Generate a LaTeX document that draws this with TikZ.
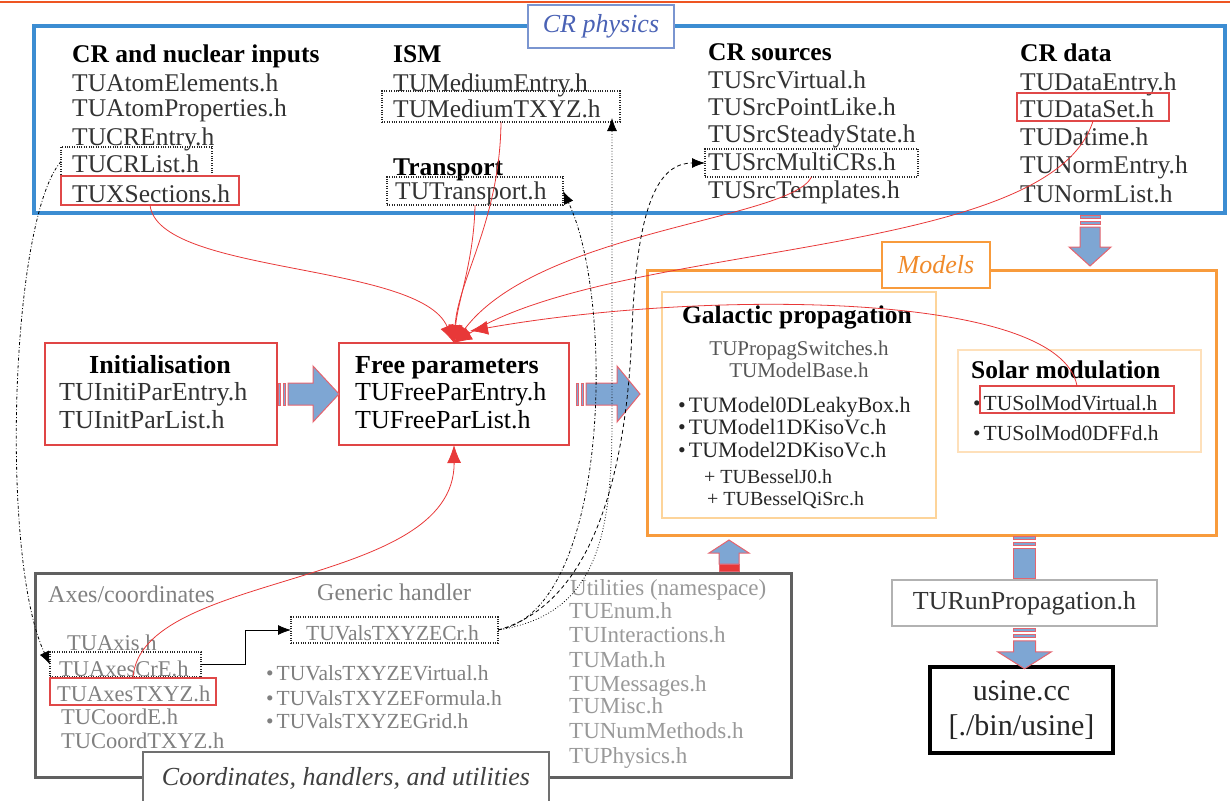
\documentclass[tikz,border=0pt]{standalone}
\usepackage{fontspec}
\setmainfont{Liberation Serif}
\usetikzlibrary{arrows.meta,fit,calc}
\definecolor{crblue}{HTML}{3C8DD2}
\definecolor{crlab}{HTML}{4A62B5}
\definecolor{crlabbox}{HTML}{7A95D0}
\definecolor{morange}{HTML}{F89B3C}
\definecolor{mlab}{HTML}{F08A2A}
\definecolor{galbox}{HTML}{FDD49A}
\definecolor{solbox}{HTML}{FEE0BA}
\definecolor{boxred}{HTML}{E04545}
\definecolor{itemred}{HTML}{E04848}
\definecolor{linered}{HTML}{E83838}
\definecolor{panelgray}{HTML}{606060}
\definecolor{arrblue}{HTML}{7EA6D3}
\definecolor{arrred}{HTML}{E5646E}
\definecolor{topline}{HTML}{EE5522}
\definecolor{itemtxt}{HTML}{333333}
\definecolor{modtxt}{HTML}{555555}
\definecolor{lowtxt}{HTML}{808080}
\definecolor{utiltxt}{HTML}{999999}
\newcommand\fsz[1]{\fontsize{#1}{#1}\selectfont}
\begin{document}
\begin{tikzpicture}[x=1pt,y=-1pt,
  txt/.style={anchor=base west, inner sep=0pt, text=itemtxt, font=\fsz{25.5}},
  hdr/.style={anchor=base west, inner sep=0pt, text=black, font=\fsz{25.5}\bfseries},
  modt/.style={anchor=base west, inner sep=0pt, text=black!85, font=\fsz{22}},
  lowt/.style={anchor=base west, inner sep=0pt, text=lowtxt, font=\fsz{22.5}},
  utilt/.style={anchor=base west, inner sep=0pt, text=utiltxt, font=\fsz{23}},
  frame/.style={inner sep=0pt, outer sep=0pt, fit={#1}},
  dotbox/.style={draw=black!85, line width=1.2pt, dash pattern=on 1pt off 1.4pt},
  redbox/.style={draw=itemred, line width=1.3pt},
  fatarr/.style={fill=arrblue, draw=arrred, line width=1pt},
  redc/.style={draw=linered, line width=0.8pt, -{Latex[length=18pt,width=14pt]}, fill=none},
  blk/.style={draw=black, line width=0.8pt, -{Latex[length=13pt,width=10pt]}},
]
\useasboundingbox (0,0) rectangle (1230,800);
\draw[topline, line width=2.5pt] (0,2) -- (1230,2);

% ---------- panels ----------
\node[draw=crblue, line width=3.5pt, frame={(34,26)(1225,213)}] (crphys) {};
\node[draw=crlabbox, line width=1.5pt, fill=white, minimum width=146pt, minimum height=43pt, inner sep=0pt,
      text=crlab, font=\fsz{26}\itshape] (crlabel) at (601,26.5) {CR physics};

\node[draw=morange, line width=3pt, frame={(647,270)(1216,535)}] (models) {};
\node[draw=morange, line width=2pt, fill=white, minimum width=108pt, minimum height=46pt, inner sep=0pt,
      text=mlab, font=\fsz{26}\itshape] (modlabel) at (936,265) {Models};
\node[draw=galbox, line width=2pt, frame={(662,292)(936,518)}] (galbox) {};
\node[draw=solbox, line width=1.5pt, frame={(958,350)(1201,452)}] (solbox) {};

\node[draw=panelgray, line width=3pt, frame={(35,573)(791,777)}] (coordp) {};
\node[draw=panelgray!90, line width=2pt, fill=white, minimum width=406pt, minimum height=52pt, inner sep=0pt,
      text=black!75, font=\fsz{26}\itshape] (coordlab) at (346,778) {Coordinates, handlers, and utilities};

% ---------- CR physics contents ----------
\node[hdr] (h1) at (72,63) {CR and nuclear inputs};
\node[txt] (atomel) at (72,91) {TUAtomElements.h};
\node[txt] (atompr) at (72,116) {TUAtomProperties.h};
\node[txt] (crentry) at (72,145) {TUCREntry.h};
\node[txt] (crlist) at (72,172) {TUCRList.h};
\node[txt] (xsec) at (72,202) {TUXSections.h};
\node[dotbox, frame={(61,147)(212,176)}] (crlistb) {};
\node[redbox, frame={(61,176)(239,205)}] (xsecb) {};

\node[hdr] (h2) at (393,63) {ISM};
\node[txt] (medentry) at (393,91) {TUMediumEntry.h};
\node[txt] (medtxyz) at (393,117) {TUMediumTXYZ.h};
\node[hdr] (h3) at (393,175) {Transport};
\node[txt] (transp) at (395,199) {TUTransport.h};
\node[dotbox, frame={(382,91)(620,122)}] (mediumb) {};
\node[dotbox, frame={(387,177)(563,205)}] (transpb) {};

\node[hdr] (h4) at (708,60) {CR sources};
\node[txt] (srcv) at (708,88) {TUSrcVirtual.h};
\node[txt] (srcp) at (708,115) {TUSrcPointLike.h};
\node[txt] (srcs) at (708,142) {TUSrcSteadyState.h};
\node[txt] (srcm) at (708,170) {TUSrcMultiCRs.h};
\node[txt] (srct) at (708,198) {TUSrcTemplates.h};
\node[dotbox, frame={(705,149)(918,177)}] (multicrsb) {};

\node[hdr] (h5) at (1020,61) {CR data};
\node[txt] (dentry) at (1020,90) {TUDataEntry.h};
\node[txt] (dset) at (1020,117) {TUDataSet.h};
\node[txt] (datime) at (1020,145) {TUDatime.h};
\node[txt] (nentry) at (1020,173) {TUNormEntry.h};
\node[txt] (nlist) at (1020,202) {TUNormList.h};
\node[redbox, frame={(1017,93)(1169,121)}] (datasetb) {};

% ---------- Init / Free ----------
\node[draw=boxred, line width=2.2pt, frame={(45,343)(277,445)}] (initbox) {};
\node[hdr, anchor=base, font=\fsz{26}\bfseries] (inith) at (160,373) {Initialisation};
\node[txt, font=\fsz{26}] (initentry) at (59,400) {TUInitiParEntry.h};
\node[txt, font=\fsz{26}] (initlist) at (59,428) {TUInitParList.h};

\node[draw=boxred, line width=2.2pt, frame={(339,343)(569,445)}] (freebox) {};
\node[hdr, font=\fsz{26}\bfseries] (freeh) at (355,373) {Free parameters};
\node[txt, text=black, font=\fsz{26}] (freeentry) at (355,400) {TUFreeParEntry.h};
\node[txt, text=black, font=\fsz{26}] (freelist) at (355,428) {TUFreeParList.h};

% ---------- Models contents ----------
\node[hdr, anchor=base] (galh) at (797,323) {Galactic propagation};
\node[modt, anchor=base, text=modtxt, font=\fsz{21}] (switches) at (799,355) {TUPropagSwitches.h};
\node[modt, anchor=base, text=modtxt, font=\fsz{21}] (mbase) at (799,377) {TUModelBase.h};
\node[modt] (m0) at (678,412) {\textbullet\kern3pt TUModel0DLeakyBox.h};
\node[modt] (m1) at (678,434) {\textbullet\kern3pt TUModel1DKisoVc.h};
\node[modt] (m2) at (678,457) {\textbullet\kern3pt TUModel2DKisoVc.h};
\node[modt, font=\fsz{20}] (bj0) at (704,483) {+ TUBesselJ0.h};
\node[modt, font=\fsz{20}] (bqi) at (707,505) {+ TUBesselQiSrc.h};

\node[hdr] (solh) at (971,378) {Solar modulation};
\node[modt, font=\fsz{21.5}] (solv) at (973,410) {\textbullet\kern3pt TUSolModVirtual.h};
\node[modt, font=\fsz{21.5}] (sol0) at (973,440) {\textbullet\kern3pt TUSolMod0DFFd.h};
\node[redbox, frame={(980,386)(1174,413)}] (solvb) {};

% ---------- run / usine ----------
\node[draw=black!30, line width=1.5pt, fill=white, minimum width=265pt, minimum height=46pt, inner sep=0pt,
      text=itemtxt, font=\fsz{26}] (turun) at (1024.5,603) {TURunPropagation.h};
\node[draw=black, line width=4pt, minimum width=183pt, minimum height=86pt, inner sep=0pt, align=center,
      text=black!85, font=\fontsize{30}{35}\selectfont] (usine) at (1021.5,710) {usine.cc\\{[./bin/usine]}};

% ---------- bottom panel contents ----------
\node[lowt, font=\fsz{24}] (axh) at (48,602) {Axes/coordinates};
\node[lowt] (axis) at (67,650) {TUAxis.h};
\node[lowt] (axescre) at (59,676) {TUAxesCrE.h};
\node[lowt] (axestxyz) at (57,701) {TUAxesTXYZ.h};
\node[lowt] (coorde) at (61,724) {TUCoordE.h};
\node[lowt] (coordtxyz) at (61,748) {TUCoordTXYZ.h};
\node[dotbox, frame={(50,652)(201,677)}] (axescrb) {};
\node[redbox, frame={(50,678)(216,705)}] (axestxyzb) {};

\node[lowt, font=\fsz{24}] (genh) at (317,600) {Generic handler};
\node[lowt, font=\fsz{21.5}] (valscr) at (306,640) {TUValsTXYZECr.h};
\node[dotbox, frame={(291,617)(498,643)}] (valscrb) {};
\node[lowt, font=\fsz{21.5}] (valsv) at (266,680) {\textbullet\kern3pt TUValsTXYZEVirtual.h};
\node[lowt, font=\fsz{21.5}] (valsf) at (266,705) {\textbullet\kern3pt TUValsTXYZEFormula.h};
\node[lowt, font=\fsz{21.5}] (valsg) at (266,728) {\textbullet\kern3pt TUValsTXYZEGrid.h};

\node[utilt] (uth) at (570,595) {Utilities (namespace)};
\node[utilt] (uenum) at (569,618) {TUEnum.h};
\node[utilt] (uint) at (569,642) {TUInteractions.h};
\node[utilt] (umath) at (569,667) {TUMath.h};
\node[utilt] (umess) at (569,691) {TUMessages.h};
\node[utilt] (umisc) at (569,713) {TUMisc.h};
\node[utilt] (unum) at (569,738) {TUNumMethods.h};
\node[utilt] (uphys) at (569,763) {TUPhysics.h};

% ---------- fat arrows ----------
\begin{scope}[shift={(initbox.east)}]
  \draw[fatarr] (1,-11) rectangle (3.5,11);
  \draw[fatarr] (6,-11) rectangle (8.5,11);
  \draw[fatarr] (11,-11) -- (36,-11) -- (36,-28) -- (62,0) -- (36,28) -- (36,11) -- (11,11) -- cycle;
\end{scope}
\begin{scope}[shift={(freebox.east)}]
  \draw[fatarr] (7,-11) rectangle (9.5,11);
  \draw[fatarr] (12,-11) rectangle (14.5,11);
  \draw[fatarr] (17,-11) -- (48,-11) -- (48,-28) -- (71,0) -- (48,28) -- (48,11) -- (17,11) -- cycle;
\end{scope}
\begin{scope}[shift={($(crphys.south east)+(-135,0)$)}]
  \draw[fatarr] (-10,2) rectangle (10,5);
  \draw[fatarr] (-10,8) rectangle (10,11);
  \draw[fatarr] (-10,14) -- (-10,34) -- (-21,34) -- (0,53) -- (21,34) -- (10,34) -- (10,14) -- cycle;
\end{scope}
\begin{scope}[shift={(turun.north)}]
  \draw[fatarr] (-11,-43) rectangle (11,-40);
  \draw[fatarr] (-11,-37) rectangle (11,-34);
  \draw[fatarr] (-11,-31) rectangle (11,-1);
\end{scope}
\begin{scope}[shift={(turun.south)}]
  \draw[fatarr] (-11,2) rectangle (11,5);
  \draw[fatarr] (-11,8) rectangle (11,11);
  \draw[fatarr] (-11,14) -- (-11,25) -- (-27,25) -- (0,42) -- (27,25) -- (11,25) -- (11,14) -- cycle;
\end{scope}
\begin{scope}[shift={($(coordp.north east)+(-62,0)$)}]
  \draw[fatarr, fill=linered] (-10,-2) rectangle (10,-9);
  \draw[fatarr] (-10,-9) -- (-10,-20) -- (-20,-20) -- (0,-33) -- (20,-20) -- (10,-20) -- (10,-9) -- cycle;
\end{scope}

% ---------- red connectors ----------
\draw[redc] (xsecb.south) .. controls (158,275) and (420,262) .. (freebox.north);
\draw[redc] (transpb.south) .. controls (474,260) and (458,300) .. (freebox.north);
\draw[redc] (mediumb.south) .. controls (500,220) and (458,280) .. (freebox.north);
\draw[redc] (multicrsb.south) .. controls (790,220) and (540,230) .. (freebox.north);
\draw[redc] (datasetb.south) .. controls (1050,260) and (620,240) .. (freebox.north);
\draw[redc] (solvb.north) .. controls (1060,290) and (700,290) .. ($(freebox.north)+(16,-12)$);
\draw[redc] (axestxyzb.north) .. controls (140,570) and (455,590) .. (freebox.south);

% ---------- black connectors ----------
\draw[blk, dash pattern=on 3pt off 2pt on 0.8pt off 2pt] (crlistb.west) .. controls (10,220) and (0,560) .. (axescrb.west);
\draw[blk, dash pattern=on 3pt off 2pt on 0.8pt off 2pt] (valscrb.east) .. controls (610,610) and (615,300) .. (transpb.east);
\draw[blk, dash pattern=on 0.8pt off 2pt] (valscrb.east) .. controls (595,615) and (612,540) .. (612,420) -- ($(mediumb.south east)+(-8,-4)$);
\draw[blk, dash pattern=on 4pt off 3pt] (valscrb.east) .. controls (605,600) and (628,440) .. (632,330) .. controls (637,200) and (660,163) .. (multicrsb.west);
\draw[blk] (axescrb.east) -- ++(44,0) |- (valscrb.west);
\end{tikzpicture}
\end{document}
